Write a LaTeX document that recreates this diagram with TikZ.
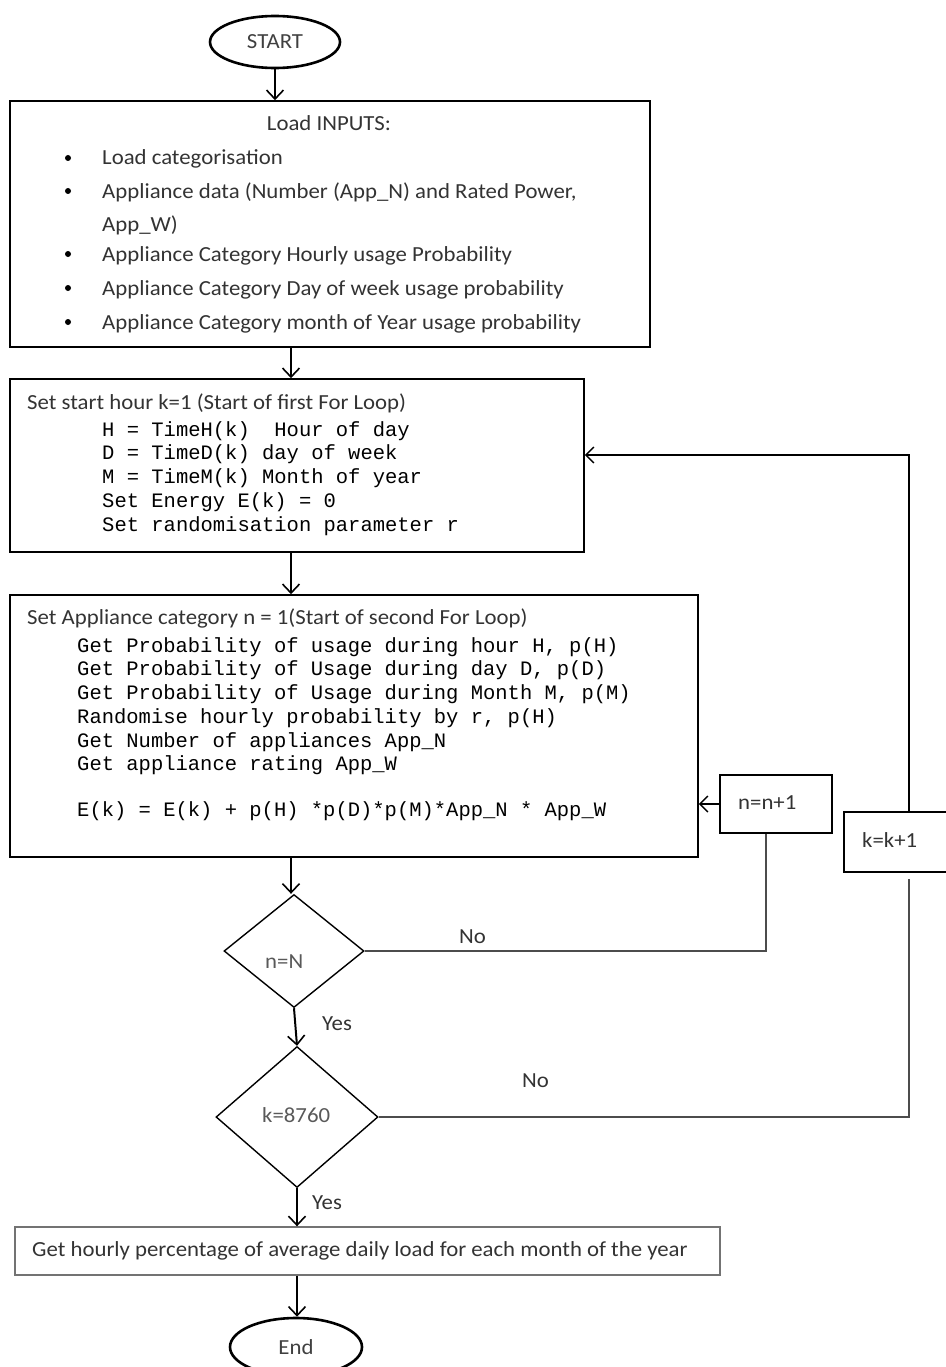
\documentclass[tikz,border=0pt]{standalone}
\usepackage{fontspec}
\setmainfont[FakeStretch=1.06]{Carlito}
\newfontfamily\monof{Liberation Mono}
\usetikzlibrary{shapes.geometric,arrows.meta}
\begin{document}
\begin{tikzpicture}[x=1pt,y=-1pt,
  box/.style={draw=black, line width=1.6pt, rectangle, inner sep=0pt},
  gbox/.style={draw=black!55, line width=1.4pt, rectangle, inner sep=0pt},
  term/.style={draw=black, ellipse, line width=2.6pt, inner sep=0pt, font=\fontsize{21.5}{25}\selectfont, text=black!75},
  dia/.style={draw=black, diamond, line width=1.4pt, inner sep=0pt, font=\fontsize{21.5}{25}\selectfont, text=black!65},
  main/.style={-{Straight Barb[length=9pt,width=17pt,line width=1.6pt]}, line width=2pt},
  back/.style={draw=black!70, line width=1.3pt},
  backarrow/.style={back, -{Straight Barb[length=8pt,width=16pt,line width=1.4pt]}, draw=black},
  txt/.style={anchor=base west, inner sep=0pt, font=\fontsize{21.5}{25}\selectfont, text=black!80},
  mono/.style={anchor=base west, inner sep=0pt, font=\monof\fontsize{20.5}{24}\selectfont, text=black}
]
\useasboundingbox (0,0) rectangle (945,1367);

% shapes
\node[term, minimum width=130pt, minimum height=52pt] (start) at (275,42) {START};
\node[box, minimum width=640pt, minimum height=246pt] (b1) at (330,224) {};
\node[box, minimum width=574pt, minimum height=173pt] (b2) at (297,465.5) {};
\node[box, minimum width=688pt, minimum height=262pt] (b3) at (354,726) {};
\node[box, line width=1.4pt, minimum width=112pt, minimum height=58pt] (nb) at (776,804) {};
\node[box, line width=1.4pt, minimum width=106pt, minimum height=60pt] (kb) at (897,842) {};
\node[dia, minimum width=140pt, minimum height=113pt] (d1) at (294,951) {};
\node[dia, minimum width=162pt, minimum height=141pt] (d2) at (297,1117) {};
\node[gbox, minimum width=705pt, minimum height=48pt] (b4) at (367.5,1251) {};
\node[term, minimum width=132pt, minimum height=58pt] (fin) at (296,1347) {End};

% box 1 text
\node[txt, anchor=base] (b1t) at (329,131) {Load INPUTS:};
\foreach \yy in {158,191,254,288,322} \fill[black] (68,\yy) circle (3pt);
\foreach \yy/\tt [count=\i] in {165/{Load categorisation},
  198/{Appliance data (Number (App\_N) and Rated Power,},
  231/{App\_W)},
  261/{Appliance Category Hourly usage Probability},
  295/{Appliance Category Day of week usage probability},
  329/{Appliance Category month of Year usage probability}}
  \node[txt] (bl\i) at (102,\yy) {\tt};

% box 2 text
\node[txt] (b2t) at (27,409) {Set start hour k=1 (Start of first For Loop)};
\foreach \yy/\tt [count=\i] in {436/{H = TimeH(k)\ \ Hour of day},
  459/{D = TimeD(k) day of week},
  483/{M = TimeM(k) Month of year},
  507/{Set Energy E(k) = 0},
  531/{Set randomisation parameter r}}
  \node[mono] (m2\i) at (102,\yy) {\tt};

% box 3 text
\node[txt] (b3t) at (27,624) {Set Appliance category n = 1(Start of second For Loop)};
\foreach \yy/\tt [count=\i] in {652/{Get Probability of usage during hour H{,} p(H)},
  675/{Get Probability of Usage during day D{,} p(D)},
  699/{Get Probability of Usage during Month M{,} p(M)},
  723/{Randomise hourly probability by r{,} p(H)},
  747/{Get Number of appliances App\_N},
  770/{Get appliance rating App\_W},
  816/{E(k) = E(k) + p(H) *p(D)*p(M)*App\_N * App\_W}}
  \node[mono] (m3\i) at (77,\yy) {\tt};

\node[txt] (nbt) at (738,809) {n=n+1};
\node[txt] (kbt) at (862,847) {k=k+1};
\node[txt, text=black!65] (d1t) at (265,968) {n=N};
\node[txt, text=black!65] (d2t) at (262,1122) {k=8760};
\node[txt] (no1) at (459,943) {No};
\node[txt] (no2) at (522,1087) {No};
\node[txt] (yes1) at (322,1030) {Yes};
\node[txt] (yes2) at (312,1209) {Yes};
\node[txt] (b4t) at (32,1256) {Get hourly percentage of average daily load for each month of the year};

% main flow
\draw[main] (start.south) -- (start.south |- b1.north);
\draw[main] (b1.south -| 291,0) -- (b2.north -| 291,0);
\draw[main] (b2.south -| 291,0) -- (b3.north -| 291,0);
\draw[main] (b3.south -| 291,0) -- (d1.north -| 291,0);
\draw[main] (d1.south) -- (d2.north);
\draw[main] (d2.south) -- (b4.north -| d2.south);
\draw[main] (b4.south -| d2.south) -- (fin.north -| d2.south);

% loops
\draw[back] (d1.east) -| (nb.south -| 766,0);
\draw[backarrow] (nb.west) -- (b3.east |- nb.west);
\draw[back, shorten >=6pt] (d2.east) -| (kb.south -| 909,0);
\draw[backarrow] (kb.north -| 909,0) |- (b2.east |- 0,455);
\end{tikzpicture}
\end{document}
